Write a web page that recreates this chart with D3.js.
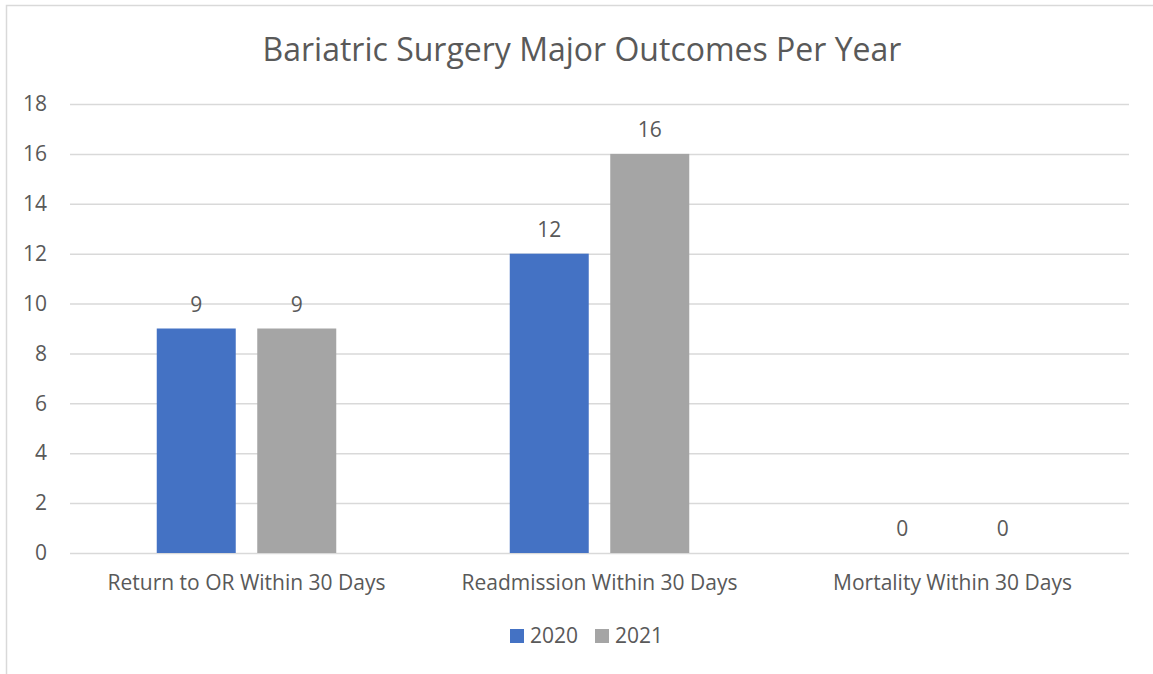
<!DOCTYPE html>
<html>
<head>
<meta charset="utf-8">
<script src="https://cdn.jsdelivr.net/npm/d3@7"></script>
<style>
    html, body { margin: 0; padding: 0; background: #fff; }
    svg text { font-family: "Open Sans", "Noto Sans", sans-serif; fill: #595959; }
</style>
</head>
<body>
<div id="chart"></div>
<script>
'use strict';

const categories = ['Return to OR Within 30 Days', 'Readmission Within 30 Days', 'Mortality Within 30 Days'];
const years = ['2020', '2021'];
const values2020 = [9, 12, 0];
const values2021 = [9, 16, 0];
const yTicks = [0, 2, 4, 6, 8, 10, 12, 14, 16, 18];
const title = 'Bariatric Surgery Major Outcomes Per Year';

const colours = { '2020': '#4472C4', '2021': '#A5A5A5' };

const width = 1153, height = 674;
const margins = { top: 104, right: 24, bottom: 121, left: 70 };
const innerWidth = width - margins.left - margins.right;
const innerHeight = height - margins.top - margins.bottom;

const rows = categories.map((c, i) => ({
    category: c,
    values: [
        { year: '2020', value: values2020[i] },
        { year: '2021', value: values2021[i] }
    ]
}));

const svg = d3.select('#chart').append('svg')
    .attr('width', width)
    .attr('height', height);

// chart border, right and bottom edges fall outside the picture
svg.append('path')
    .attr('d', `M6.5,${height} V5.5 H${width}`)
    .attr('fill', 'none')
    .attr('stroke', '#D9D9D9')
    .attr('stroke-width', 1.5);

svg.append('text')
    .attr('x', 582)
    .attr('y', 61)
    .attr('text-anchor', 'middle')
    .style('font-size', '32px')
    .text(title);

const chartGroup = svg.append('g')
    .attr('transform', `translate(${margins.left}, ${margins.top})`);

const scaleX = d3.scaleBand()
    .domain(categories)
    .range([0, innerWidth])
    .padding(0);

const scaleInner = d3.scaleBand()
    .domain(years)
    .range([86.75, scaleX.bandwidth() - 86.75])
    .paddingInner(0.214)
    .paddingOuter(0);

const scaleY = d3.scaleLinear()
    .domain([0, 18])
    .range([innerHeight, 0]);

// grid + y labels
const yAxis = d3.axisLeft(scaleY)
    .tickValues(yTicks)
    .tickSize(-innerWidth)
    .tickPadding(23);

const axisYGroup = chartGroup.append('g').call(yAxis);
axisYGroup.select('.domain').remove();
axisYGroup.selectAll('.tick line')
    .attr('stroke', '#D9D9D9')
    .attr('stroke-width', 1.5);
axisYGroup.selectAll('.tick text')
    .style('font-size', '21px')
    .style('font-family', '"Open Sans", sans-serif')
    .attr('fill', '#595959');

// x labels
const xAxis = d3.axisBottom(scaleX)
    .tickSize(0)
    .tickPadding(22);

const axisXGroup = chartGroup.append('g')
    .attr('transform', `translate(0, ${innerHeight})`)
    .call(xAxis);
axisXGroup.select('.domain').remove();
axisXGroup.selectAll('.tick text')
    .style('font-size', '21px')
    .style('font-family', '"Open Sans", sans-serif')
    .attr('fill', '#595959');

// bars
const groups = chartGroup.selectAll('.group')
    .data(rows)
    .join('g')
    .attr('transform', d => `translate(${scaleX(d.category)}, 0)`);

groups.selectAll('rect')
    .data(d => d.values)
    .join('rect')
    .attr('x', d => scaleInner(d.year))
    .attr('y', d => scaleY(d.value))
    .attr('width', scaleInner.bandwidth())
    .attr('height', d => innerHeight - scaleY(d.value))
    .attr('fill', d => colours[d.year]);

groups.selectAll('.label')
    .data(d => d.values)
    .join('text')
    .attr('class', 'label')
    .attr('x', d => scaleInner(d.year) + scaleInner.bandwidth() / 2)
    .attr('y', d => scaleY(d.value) - 17)
    .attr('text-anchor', 'middle')
    .style('font-size', '21px')
    .text(d => d.value);

// legend
const legend = svg.append('g')
    .attr('transform', `translate(510, 636)`);

let legendX = 0;
years.forEach(y => {
    const item = legend.append('g').attr('transform', `translate(${legendX}, 0)`);
    item.append('rect')
        .attr('x', 0).attr('y', -7)
        .attr('width', 14).attr('height', 14)
        .attr('fill', colours[y]);
    item.append('text')
        .attr('x', 20)
        .attr('y', 0)
        .attr('dy', '0.35em')
        .style('font-size', '21px')
        .text(y);
    legendX += 85;
});
</script>
</body>
</html>
